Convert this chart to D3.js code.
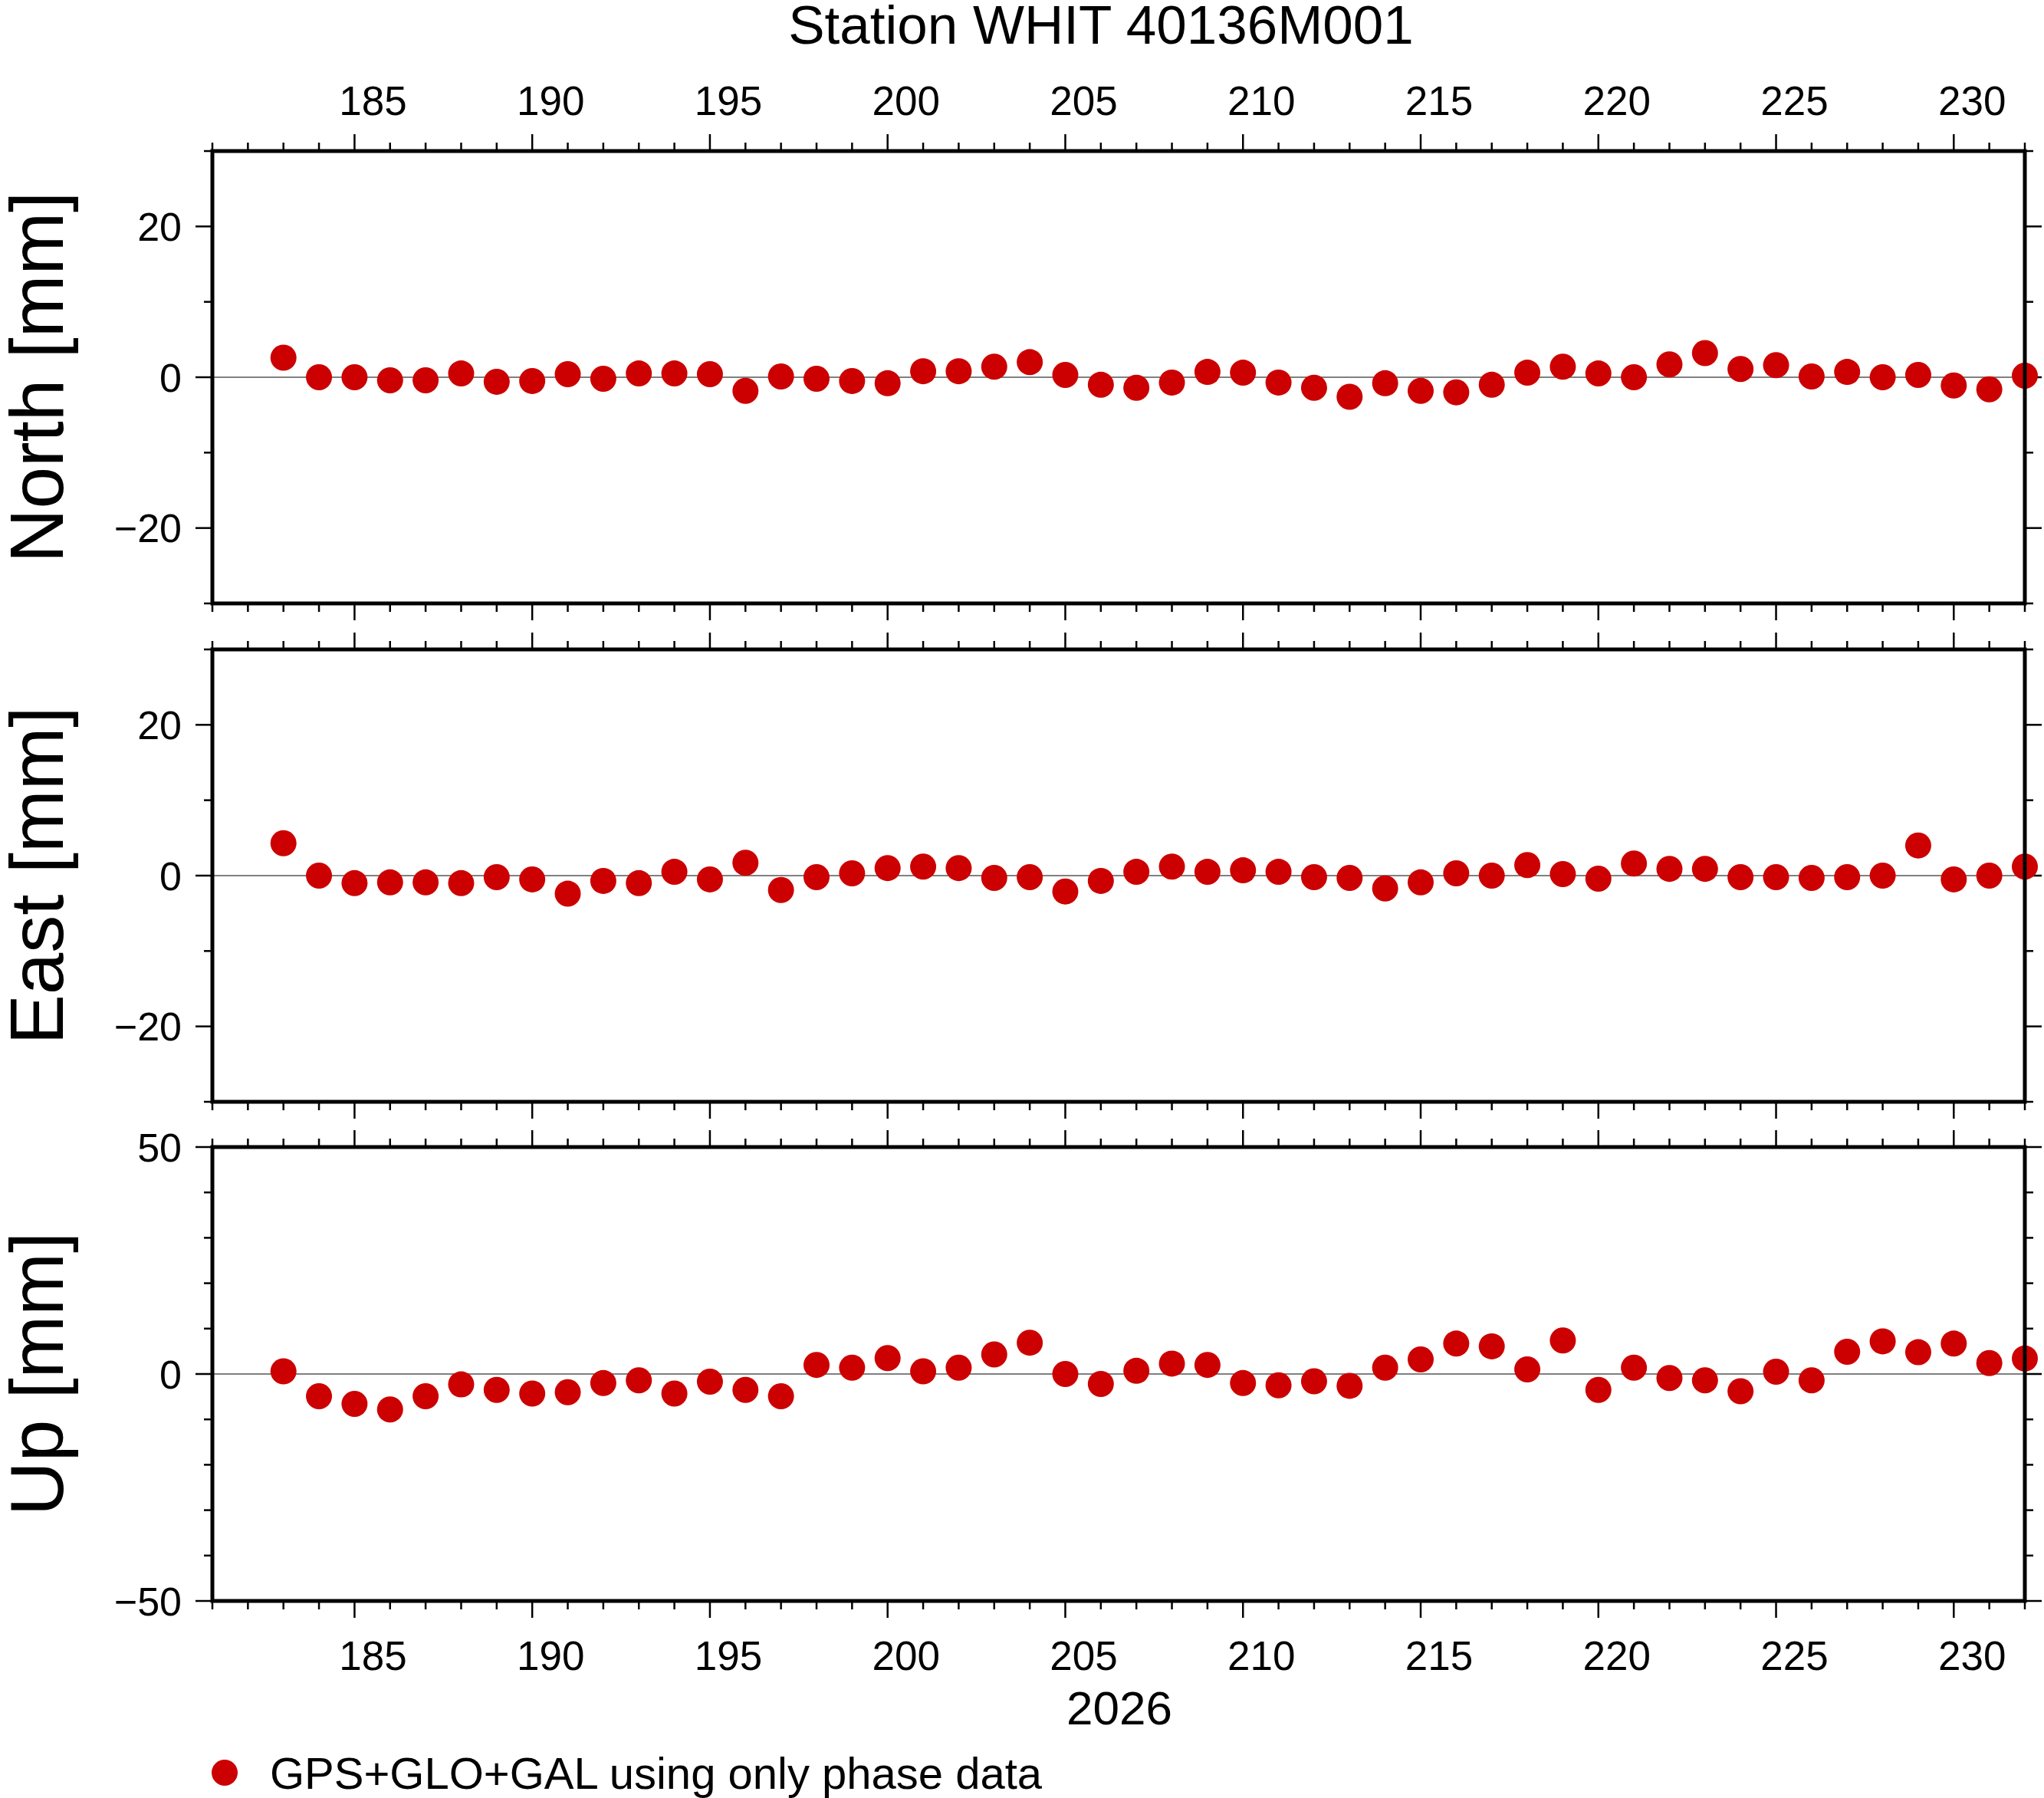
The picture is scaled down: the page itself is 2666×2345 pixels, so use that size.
<!DOCTYPE html>
<html><head><meta charset="utf-8">
<script src="https://cdn.jsdelivr.net/npm/d3@7"></script>
<style>body{margin:0;background:#fff}svg{font-family:"Liberation Sans",Arial,sans-serif}</style>
</head><body><svg id="chart" width="2666" height="2345"></svg>
<script>
const days = d3.range(183, 233);
const north = [2.6,0,0,-0.4,-0.4,0.5,-0.6,-0.5,0.4,-0.2,0.5,0.5,0.4,-1.8,0.1,-0.2,-0.5,-0.8,0.8,0.8,1.4,2.0,0.3,-1,-1.4,-0.7,0.7,0.6,-0.7,-1.4,-2.6,-0.8,-1.8,-2,-1,0.6,1.4,0.5,0,1.7,3.2,1.1,1.6,0.1,0.7,0,0.3,-1.1,-1.6,0.2];
const east = [4.3,0,-1,-0.9,-0.9,-1,-0.2,-0.5,-2.4,-0.7,-1,0.5,-0.5,1.7,-1.9,-0.2,0.3,1,1.2,1,-0.3,-0.2,-2.1,-0.7,0.5,1.2,0.5,0.7,0.5,-0.2,-0.3,-1.7,-0.9,0.3,0,1.4,0.2,-0.4,1.6,0.9,0.9,-0.2,-0.2,-0.3,-0.2,0,4,-0.5,0,1.2];
const up = [0.6,-4.9,-6.6,-7.8,-4.9,-2.3,-3.5,-4.3,-4,-2,-1.4,-4.3,-1.7,-3.5,-4.9,2,1.4,3.5,0.6,1.4,4.3,6.9,0,-2.2,0.7,2.3,2,-2,-2.5,-1.6,-2.6,1.4,3.2,6.7,6.1,1,7.4,-3.5,1.4,-0.9,-1.4,-3.8,0.5,-1.4,4.9,7.2,4.8,6.7,2.4,3.4];
const panels = [
  {label:"North [mm]", values:north, domain:[-30,30], major:20, minor:10, top:197, bottom:787},
  {label:"East [mm]", values:east, domain:[-30,30], major:20, minor:10, top:847, bottom:1437},
  {label:"Up [mm]", values:up, domain:[-50,50], major:50, minor:10, top:1496, bottom:2088}
];
const xDomain = [181, 232];
const L = 277, R = 2641, red = "#cc0000";
const svg = d3.select("#chart");
const x = d3.scaleLinear().domain(xDomain).range([L, R]);
const majX = d3.range(185, 231, 5), allX = d3.range(181, 233);

function xTicks(y, dir) {
  svg.append("g").selectAll("line").data(allX).join("line")
    .attr("x1", d => x(d)).attr("x2", d => x(d)).attr("y1", y)
    .attr("y2", d => y + dir * (d % 5 === 0 ? 22 : 11))
    .attr("stroke", "#000").attr("stroke-width", 2.5);
}

panels.forEach((p, i) => {
  const y = d3.scaleLinear().domain(p.domain).range([p.bottom, p.top]);
  const g = svg.append("g");
  g.append("line").attr("x1", L).attr("x2", R).attr("y1", y(0)).attr("y2", y(0)).attr("stroke", "#000").attr("stroke-width", 1);
  const yMinor = d3.range(p.domain[0], p.domain[1] + 0.1, p.minor);
  [[L, -1], [R, 1]].forEach(([xx, dir]) => {
    g.selectAll(null).data(yMinor).join("line")
      .attr("x1", xx).attr("x2", d => xx + dir * (d % p.major === 0 ? 22 : 11))
      .attr("y1", d => y(d)).attr("y2", d => y(d))
      .attr("stroke", "#000").attr("stroke-width", 2.5);
  });
  g.selectAll(null).data(d3.range(-p.major, p.major + 0.1, p.major).filter(v => v >= p.domain[0] && v <= p.domain[1])).join("text")
    .attr("x", L - 40).attr("y", d => y(d)).attr("dy", "0.36em").attr("text-anchor", "end")
    .attr("font-size", 52).text(d => d < 0 ? "\u2212" + Math.abs(d) : d);
  g.append("text").attr("transform", `translate(82,${(p.top + p.bottom) / 2}) rotate(-90)`)
    .attr("text-anchor", "middle").attr("font-size", 98).text(p.label);
  xTicks(p.top, -1);
  xTicks(p.bottom, 1);
  g.selectAll("circle").data(p.values).join("circle")
    .attr("cx", (d, k) => x(days[k])).attr("cy", d => y(d)).attr("r", 17).attr("fill", red);
  g.append("rect").attr("x", L).attr("y", p.top).attr("width", R - L).attr("height", p.bottom - p.top)
    .attr("fill", "none").attr("stroke", "#000").attr("stroke-width", 5);
});

[131, 2159].forEach(ty => {
  svg.append("g").selectAll("text").data(majX).join("text")
    .attr("x", d => x(d) + 24).attr("y", ty).attr("dy", "0.36em").attr("text-anchor", "middle")
    .attr("font-size", 53).text(d => d);
});
svg.append("text").attr("x", 1436).attr("y", 31).attr("dy", "0.36em").attr("text-anchor", "middle").attr("font-size", 71).text("Station WHIT 40136M001");
svg.append("text").attr("x", 1460).attr("y", 2227).attr("dy", "0.36em").attr("text-anchor", "middle").attr("font-size", 62).text("2026");
svg.append("circle").attr("cx", 293).attr("cy", 2312).attr("r", 17).attr("fill", red);
svg.append("text").attr("x", 352).attr("y", 2312).attr("dy", "0.36em").attr("font-size", 58).text("GPS+GLO+GAL using only phase data");
</script></body></html>
